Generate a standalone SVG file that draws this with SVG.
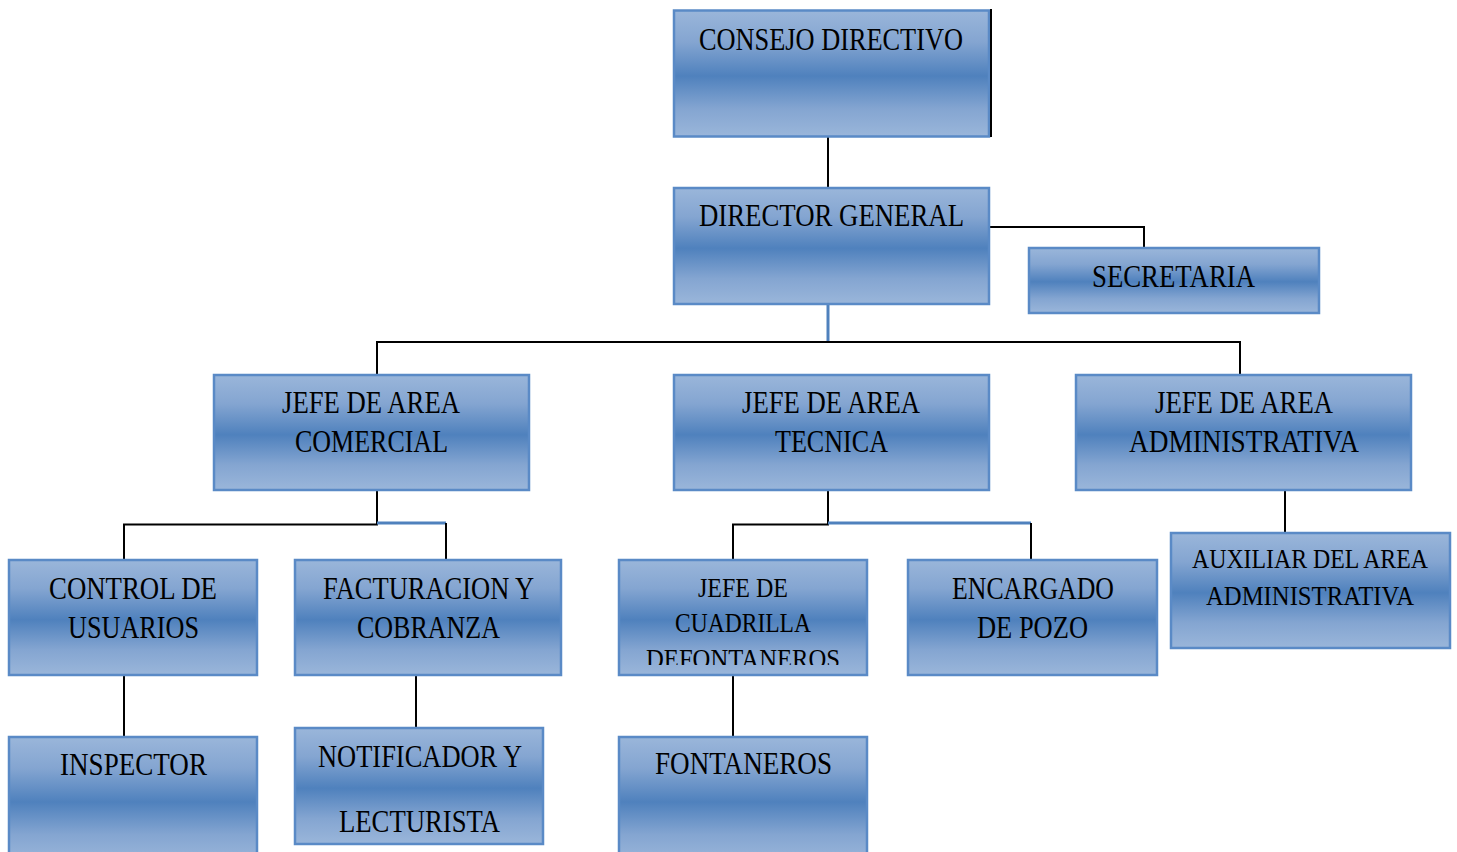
<svg xmlns="http://www.w3.org/2000/svg" width="1457" height="852" viewBox="0 0 1457 852">
  <defs>
    <linearGradient id="g" x1="0" y1="0" x2="0" y2="1">
      <stop offset="0" stop-color="#9ab6da"/>
      <stop offset="0.25" stop-color="#84a5d1"/>
      <stop offset="0.52" stop-color="#4f81bd"/>
      <stop offset="0.78" stop-color="#84a5d1"/>
      <stop offset="1" stop-color="#9ab6da"/>
    </linearGradient>
    <clipPath id="clipCuad"><rect x="619" y="560" width="248" height="105"/></clipPath>
  </defs>
  <style>
    .box { fill: url(#g); stroke: #5a8ac6; stroke-width: 2.5; }
    .t { font-family: "Liberation Serif", "Times New Roman", serif; font-size: 30.5px; fill: #000; text-anchor: start; }
    .s { font-size: 27px; }
    .k { stroke: #000; stroke-width: 2; fill: none; }
    .b { stroke: #4f81bd; stroke-width: 3; fill: none; }
  </style>
  <rect width="1457" height="852" fill="#fff"/>

  <g id="connectors">
    <line class="k" x1="828" y1="137" x2="828" y2="188"/>
    <polyline class="k" points="990,227 1144,227 1144,248"/>
    <line class="b" x1="828" y1="304" x2="828" y2="342"/>
    <polyline class="k" points="377,375 377,342 1240,342 1240,375"/>
    <polyline class="k" points="377,490 377,524.5 124,524.5 124,560"/>
    <line class="b" x1="377" y1="523" x2="446" y2="523"/>
    <line class="k" x1="446" y1="523" x2="446" y2="560"/>
    <polyline class="k" points="828,490 828,524.5 733,524.5 733,560"/>
    <line class="b" x1="828" y1="523" x2="1031" y2="523"/>
    <line class="k" x1="1031" y1="523" x2="1031" y2="560"/>
    <line class="k" x1="1285" y1="490" x2="1285" y2="533"/>
    <line class="k" x1="124" y1="675" x2="124" y2="737"/>
    <line class="k" x1="416" y1="675" x2="416" y2="728"/>
    <line class="k" x1="733" y1="675" x2="733" y2="737"/>
  </g>

  <g id="consejo">
    <rect class="box" x="674" y="10.5" width="315" height="126"/>
    <line class="k" x1="991" y1="9" x2="991" y2="137"/>
    <text class="t" x="699" y="50" textLength="264" lengthAdjust="spacingAndGlyphs">CONSEJO DIRECTIVO</text>
  </g>
  <g id="director">
    <rect class="box" x="674" y="188" width="315" height="116"/>
    <text class="t" x="699" y="226" textLength="265" lengthAdjust="spacingAndGlyphs">DIRECTOR GENERAL</text>
  </g>
  <g id="secretaria">
    <rect class="box" x="1029" y="248" width="290" height="65"/>
    <text class="t" x="1092" y="287" textLength="163" lengthAdjust="spacingAndGlyphs">SECRETARIA</text>
  </g>
  <g id="comercial">
    <rect class="box" x="214" y="375" width="315" height="115"/>
    <text class="t" x="282" y="413" textLength="178" lengthAdjust="spacingAndGlyphs">JEFE DE AREA</text>
    <text class="t" x="295" y="452" textLength="153" lengthAdjust="spacingAndGlyphs">COMERCIAL</text>
  </g>
  <g id="tecnica">
    <rect class="box" x="674" y="375" width="315" height="115"/>
    <text class="t" x="742" y="413" textLength="178" lengthAdjust="spacingAndGlyphs">JEFE DE AREA</text>
    <text class="t" x="775" y="452" textLength="113" lengthAdjust="spacingAndGlyphs">TECNICA</text>
  </g>
  <g id="administrativa">
    <rect class="box" x="1076" y="375" width="335" height="115"/>
    <text class="t" x="1155" y="413" textLength="178" lengthAdjust="spacingAndGlyphs">JEFE DE AREA</text>
    <text class="t" x="1129" y="452" textLength="230" lengthAdjust="spacingAndGlyphs">ADMINISTRATIVA</text>
  </g>
  <g id="control">
    <rect class="box" x="9" y="560" width="248" height="115"/>
    <text class="t" x="49" y="599" textLength="168" lengthAdjust="spacingAndGlyphs">CONTROL DE</text>
    <text class="t" x="68" y="638" textLength="131" lengthAdjust="spacingAndGlyphs">USUARIOS</text>
  </g>
  <g id="facturacion">
    <rect class="box" x="295" y="560" width="266" height="115"/>
    <text class="t" x="323" y="599" textLength="211" lengthAdjust="spacingAndGlyphs">FACTURACION Y</text>
    <text class="t" x="357" y="638" textLength="143" lengthAdjust="spacingAndGlyphs">COBRANZA</text>
  </g>
  <g id="cuadrilla">
    <rect class="box" x="619" y="560" width="248" height="115"/>
    <g clip-path="url(#clipCuad)">
      <text class="t s" x="698" y="597" textLength="90" lengthAdjust="spacingAndGlyphs">JEFE DE</text>
      <text class="t s" x="675" y="632" textLength="136" lengthAdjust="spacingAndGlyphs">CUADRILLA</text>
      <text class="t s" x="646" y="668" textLength="194" lengthAdjust="spacingAndGlyphs">DEFONTANEROS</text>
    </g>
  </g>
  <g id="encargado">
    <rect class="box" x="908" y="560" width="249" height="115"/>
    <text class="t" x="952" y="599" textLength="162" lengthAdjust="spacingAndGlyphs">ENCARGADO</text>
    <text class="t" x="977" y="638" textLength="111" lengthAdjust="spacingAndGlyphs">DE POZO</text>
  </g>
  <g id="auxiliar">
    <rect class="box" x="1171" y="533" width="279" height="115"/>
    <text class="t s" x="1192" y="568" textLength="236" lengthAdjust="spacingAndGlyphs">AUXILIAR DEL AREA</text>
    <text class="t s" x="1206" y="605" textLength="208" lengthAdjust="spacingAndGlyphs">ADMINISTRATIVA</text>
  </g>
  <g id="inspector">
    <rect class="box" x="9" y="737" width="248" height="125"/>
    <text class="t" x="60" y="775" textLength="147" lengthAdjust="spacingAndGlyphs">INSPECTOR</text>
  </g>
  <g id="notificador">
    <rect class="box" x="295" y="728" width="248" height="116"/>
    <text class="t" x="318" y="767" textLength="204" lengthAdjust="spacingAndGlyphs">NOTIFICADOR Y</text>
    <text class="t" x="339" y="832" textLength="161" lengthAdjust="spacingAndGlyphs">LECTURISTA</text>
  </g>
  <g id="fontaneros">
    <rect class="box" x="619" y="737" width="248" height="125"/>
    <text class="t" x="655" y="774" textLength="177" lengthAdjust="spacingAndGlyphs">FONTANEROS</text>
  </g>
</svg>
